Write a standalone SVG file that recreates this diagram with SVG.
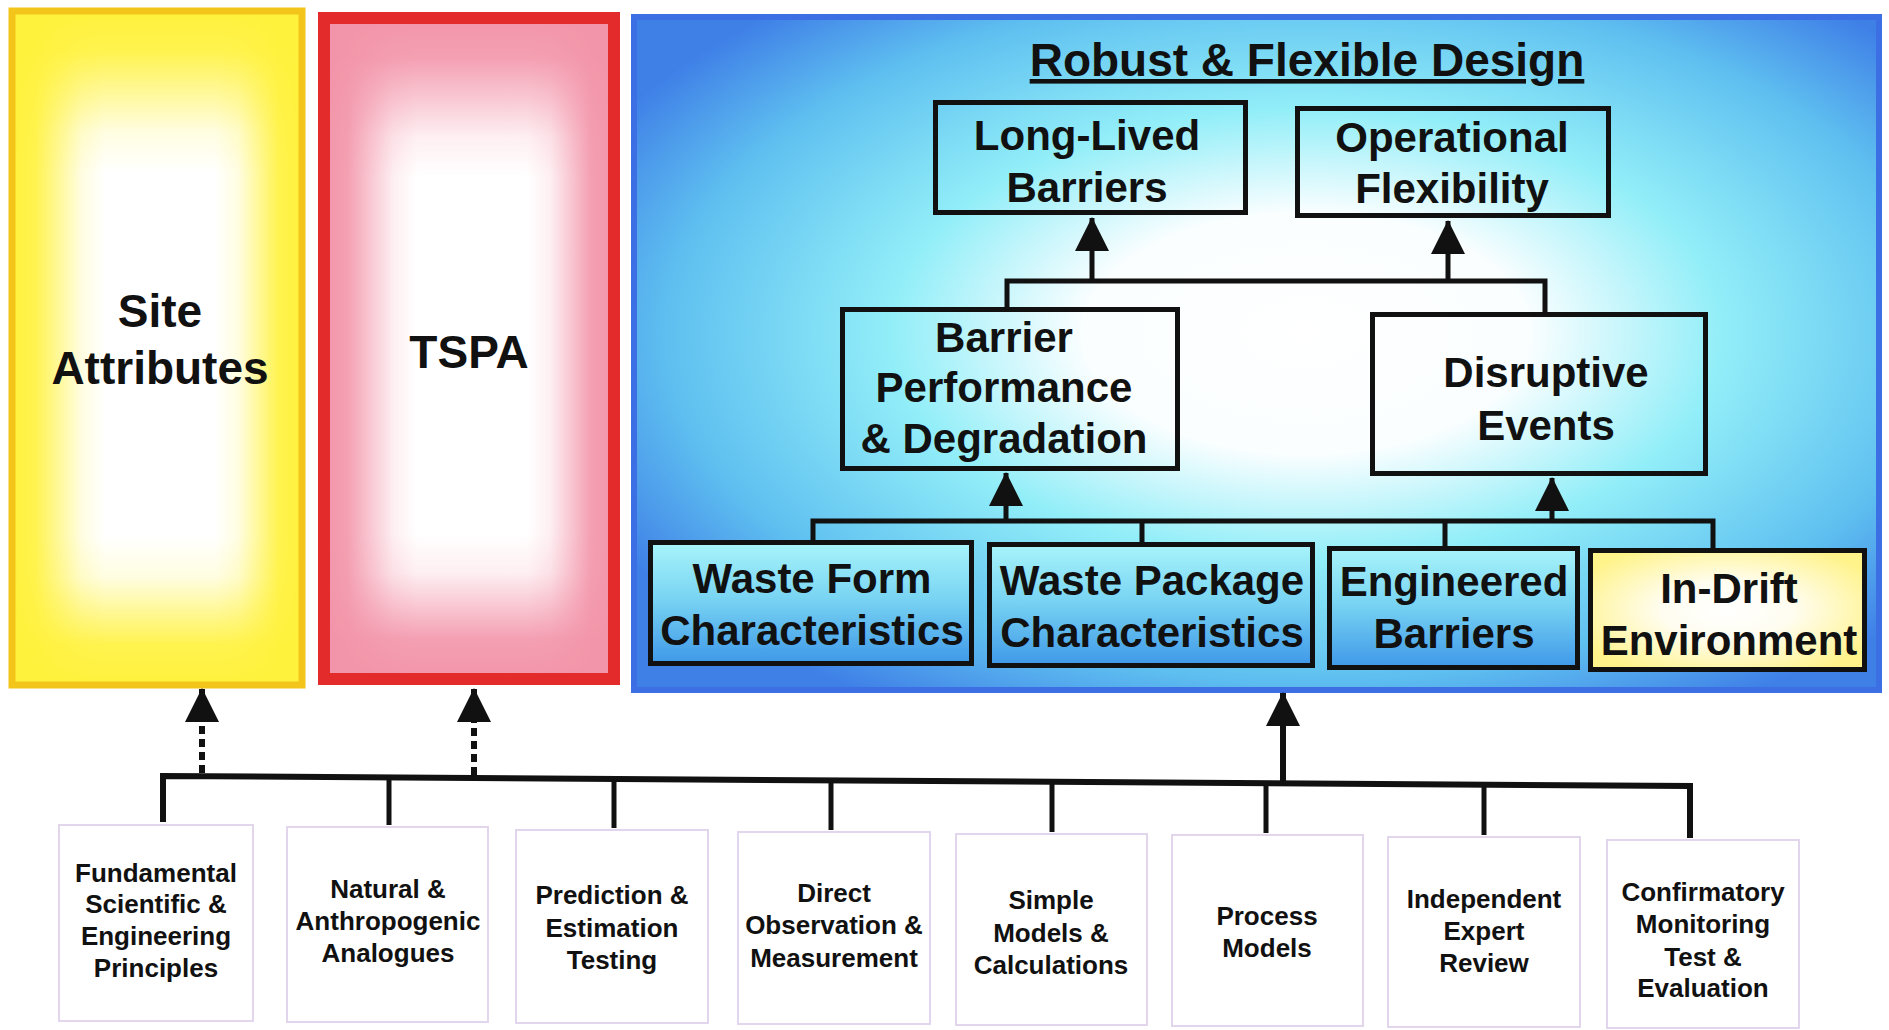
<svg xmlns="http://www.w3.org/2000/svg" width="1889" height="1030" viewBox="0 0 1889 1030">
<defs>
<style>
text{font-family:"Liberation Sans",Arial,Helvetica,sans-serif;font-weight:bold;fill:#111;text-anchor:middle}
.big{font-size:46px}
.nd{font-size:42px}
.sm{font-size:26px}
.bx{stroke:#111;stroke-width:5}
.ln{fill:none;stroke:#111;stroke-width:5;stroke-linejoin:miter}
.lnb{fill:none;stroke:#111;stroke-width:6}
.dot{fill:none;stroke:#111;stroke-width:6;stroke-dasharray:8 5}
.wb{fill:#fff;stroke:#e2d6ec;stroke-width:2}
</style>
<linearGradient id="gH" x1="0" y1="0" x2="1" y2="0">
<stop offset="0" stop-color="#000"/><stop offset="0.08" stop-color="#1a1a1a"/><stop offset="0.24" stop-color="#d8d8d8"/><stop offset="0.32" stop-color="#fff"/><stop offset="0.7" stop-color="#fff"/><stop offset="0.78" stop-color="#d8d8d8"/><stop offset="0.92" stop-color="#1a1a1a"/><stop offset="1" stop-color="#000"/>
</linearGradient>
<linearGradient id="gV" x1="0" y1="0" x2="0" y2="1">
<stop offset="0" stop-color="#000"/><stop offset="0.06" stop-color="#1a1a1a"/><stop offset="0.18" stop-color="#d8d8d8"/><stop offset="0.24" stop-color="#fff"/><stop offset="0.78" stop-color="#fff"/><stop offset="0.84" stop-color="#d8d8d8"/><stop offset="0.94" stop-color="#1a1a1a"/><stop offset="1" stop-color="#000"/>
</linearGradient>
<mask id="mH" maskContentUnits="objectBoundingBox"><rect width="1" height="1" fill="url(#gH)"/></mask>
<mask id="mV" maskContentUnits="objectBoundingBox"><rect width="1" height="1" fill="url(#gV)"/></mask>
<radialGradient id="gBlue" cx="0.54" cy="0.47" r="0.64">
<stop offset="0" stop-color="#fff"/><stop offset="0.28" stop-color="#fafeff"/><stop offset="0.52" stop-color="#92eef8"/><stop offset="0.8" stop-color="#5fc0f0"/><stop offset="1" stop-color="#3f80e7"/>
</radialGradient>
<linearGradient id="gRow" x1="0" y1="0" x2="0" y2="1">
<stop offset="0" stop-color="#a8f4fa"/><stop offset="0.45" stop-color="#7ad5f3"/><stop offset="1" stop-color="#3f98e8"/>
</linearGradient>
<radialGradient id="gYel" cx="0.5" cy="0.5" r="0.6">
<stop offset="0" stop-color="#fff"/><stop offset="0.4" stop-color="#fffdf0"/><stop offset="1" stop-color="#fff38a"/>
</radialGradient>
<marker id="ah" markerUnits="userSpaceOnUse" markerWidth="34" markerHeight="34" viewBox="0 0 32 32" refX="31" refY="16" orient="auto">
<path d="M0,0 L32,16 L0,32 Z" fill="#111"/>
</marker>
</defs>

<rect width="1889" height="1030" fill="#fff"/>

<g id="site-attributes">
<rect x="12" y="11" width="290" height="674" fill="#fff23c"/>
<g mask="url(#mV)"><rect x="12" y="11" width="290" height="674" fill="#fff" mask="url(#mH)"/></g>
<rect x="12" y="11" width="290" height="674" fill="none" stroke="#f3c41a" stroke-width="7"/>
<text class="big" x="160" y="327">Site</text>
<text class="big" x="160" y="384">Attributes</text>
</g>

<g id="tspa">
<rect x="324" y="18" width="290" height="661" fill="#f395aa"/>
<g mask="url(#mV)"><rect x="324" y="18" width="290" height="661" fill="#fff" mask="url(#mH)"/></g>
<rect x="324" y="18" width="290" height="661" fill="none" stroke="#e42b2b" stroke-width="12"/>
<text class="big" x="469" y="368">TSPA</text>
</g>

<g id="robust-flexible-design">
<rect x="634" y="17" width="1245" height="673" fill="url(#gBlue)" stroke="#3b6fe3" stroke-width="6"/>
<text class="big" x="1307" y="76" text-decoration="underline">Robust &amp; Flexible Design</text>
</g>

<g id="long-lived-barriers">
<rect class="bx" x="935.5" y="102.5" width="310" height="110" fill="none"/>
<text class="nd" x="1087" y="150">Long-Lived</text>
<text class="nd" x="1087" y="202">Barriers</text>
</g>

<g id="operational-flexibility">
<rect class="bx" x="1297.5" y="108.5" width="311" height="107" fill="none"/>
<text class="nd" x="1452" y="152">Operational</text>
<text class="nd" x="1452" y="203">Flexibility</text>
</g>

<g id="barrier-performance">
<rect class="bx" x="842.5" y="309.5" width="335" height="159" fill="none"/>
<text class="nd" x="1004" y="352">Barrier</text>
<text class="nd" x="1004" y="402">Performance</text>
<text class="nd" x="1004" y="453">&amp; Degradation</text>
</g>

<g id="disruptive-events">
<rect class="bx" x="1372.5" y="314.5" width="333" height="159" fill="none"/>
<text class="nd" x="1546" y="387">Disruptive</text>
<text class="nd" x="1546" y="440">Events</text>
</g>

<g id="waste-form">
<rect class="bx" x="650.5" y="542.5" width="321" height="121" fill="url(#gRow)"/>
<text class="nd" x="812" y="593">Waste Form</text>
<text class="nd" x="812" y="645">Characteristics</text>
</g>

<g id="waste-package">
<rect class="bx" x="989.5" y="544.5" width="323" height="121" fill="url(#gRow)"/>
<text class="nd" x="1152" y="595">Waste Package</text>
<text class="nd" x="1152" y="647">Characteristics</text>
</g>

<g id="engineered-barriers">
<rect class="bx" x="1329.5" y="548.5" width="248" height="119" fill="url(#gRow)"/>
<text class="nd" x="1454" y="596">Engineered</text>
<text class="nd" x="1454" y="648">Barriers</text>
</g>

<g id="in-drift-environment">
<rect class="bx" x="1590.5" y="550.5" width="274" height="119" fill="url(#gYel)"/>
<text class="nd" x="1729" y="603">In-Drift</text>
<text class="nd" x="1729" y="655">Environment</text>
</g>

<g id="fundamental">
<rect class="wb" x="59" y="825" width="194" height="196"/>
<text class="sm" x="156" y="882">Fundamental</text>
<text class="sm" x="156" y="913">Scientific &amp;</text>
<text class="sm" x="156" y="945">Engineering</text>
<text class="sm" x="156" y="977">Principles</text>
</g>
<g id="natural-analogues">
<rect class="wb" x="287" y="827" width="201" height="195"/>
<text class="sm" x="388" y="898">Natural &amp;</text>
<text class="sm" x="388" y="930">Anthropogenic</text>
<text class="sm" x="388" y="962">Analogues</text>
</g>
<g id="prediction-testing">
<rect class="wb" x="516" y="830" width="192" height="193"/>
<text class="sm" x="612" y="904">Prediction &amp;</text>
<text class="sm" x="612" y="937">Estimation</text>
<text class="sm" x="612" y="969">Testing</text>
</g>
<g id="direct-observation">
<rect class="wb" x="738" y="832" width="192" height="192"/>
<text class="sm" x="834" y="902">Direct</text>
<text class="sm" x="834" y="934">Observation &amp;</text>
<text class="sm" x="834" y="967">Measurement</text>
</g>
<g id="simple-models">
<rect class="wb" x="956" y="834" width="191" height="191"/>
<text class="sm" x="1051" y="909">Simple</text>
<text class="sm" x="1051" y="942">Models &amp;</text>
<text class="sm" x="1051" y="974">Calculations</text>
</g>
<g id="process-models">
<rect class="wb" x="1172" y="835" width="191" height="191"/>
<text class="sm" x="1267" y="925">Process</text>
<text class="sm" x="1267" y="957">Models</text>
</g>
<g id="independent-review">
<rect class="wb" x="1388" y="837" width="192" height="190"/>
<text class="sm" x="1484" y="908">Independent</text>
<text class="sm" x="1484" y="940">Expert</text>
<text class="sm" x="1484" y="972">Review</text>
</g>
<g id="confirmatory-monitoring">
<rect class="wb" x="1607" y="840" width="192" height="188"/>
<text class="sm" x="1703" y="901">Confirmatory</text>
<text class="sm" x="1703" y="933">Monitoring</text>
<text class="sm" x="1703" y="966">Test &amp;</text>
<text class="sm" x="1703" y="997">Evaluation</text>
</g>

<g id="connectors">
<polyline class="ln" points="1007,309 1007,281 1545,281 1545,313"/>
<line class="ln" x1="1092" y1="281" x2="1092" y2="218" marker-end="url(#ah)"/>
<line class="ln" x1="1448" y1="281" x2="1448" y2="221" marker-end="url(#ah)"/>
<polyline class="ln" points="813,542 813,521 1713,521 1713,550"/>
<line class="ln" x1="1142" y1="521" x2="1142" y2="544"/>
<line class="ln" x1="1445" y1="521" x2="1445" y2="548"/>
<line class="ln" x1="1006" y1="521" x2="1006" y2="473" marker-end="url(#ah)"/>
<line class="ln" x1="1552" y1="521" x2="1552" y2="478" marker-end="url(#ah)"/>
<polyline class="lnb" points="163,822 163,776 1690,786 1690,838"/>
<line class="ln" x1="389" y1="777" x2="389" y2="825"/>
<line class="ln" x1="614" y1="779" x2="614" y2="828"/>
<line class="ln" x1="831" y1="780" x2="831" y2="830"/>
<line class="ln" x1="1052" y1="782" x2="1052" y2="832"/>
<line class="ln" x1="1266" y1="783" x2="1266" y2="833"/>
<line class="ln" x1="1484" y1="785" x2="1484" y2="835"/>
<line class="dot" x1="202" y1="773" x2="202" y2="689" marker-end="url(#ah)"/>
<line class="dot" x1="474" y1="775" x2="474" y2="689" marker-end="url(#ah)"/>
<line class="lnb" x1="1283" y1="783" x2="1283" y2="693" marker-end="url(#ah)"/>
</g>
</svg>
